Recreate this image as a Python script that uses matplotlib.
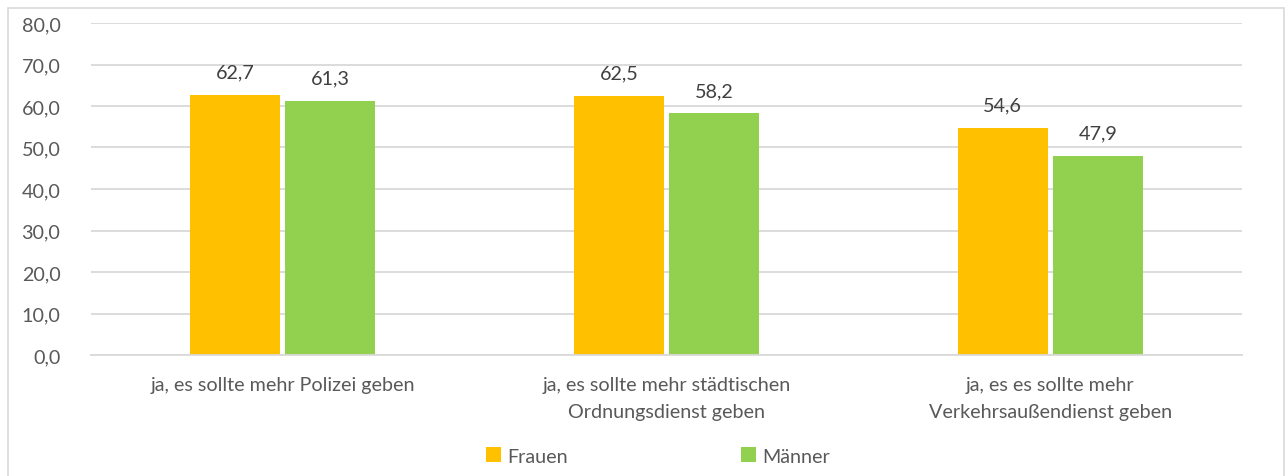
import matplotlib
matplotlib.use("Agg")
import matplotlib.pyplot as plt
import numpy as np
from matplotlib.patches import Rectangle

categories = ["ja, es sollte mehr Polizei geben",
              "ja, es sollte mehr städtischen\nOrdnungsdienst geben",
              "ja, es es sollte mehr\nVerkehrsaußendienst geben"]
series_names = ["Frauen", "Männer"]
frauen = [62.7, 62.5, 54.6]
maenner = [61.3, 58.2, 47.9]
yticks = [0, 10, 20, 30, 40, 50, 60, 70, 80]

colors = ["#FFC000", "#92D050"]
txt = "#595959"
plt.rcParams['font.family'] = ['Lato', 'DejaVu Sans']
FS = 14.2

W, H = 1285, 477
fig = plt.figure(figsize=(W/100, H/100), dpi=100)

def fx(px): return px / W
def fy(py): return 1 - py / H

# chart border
fig.patches.append(Rectangle((fx(8), fy(480)), fx(1284) - fx(8), fy(9) - fy(480),
                             transform=fig.transFigure, fill=False,
                             edgecolor="#D9D9D9", linewidth=1.2))

left, right, top, bottom = 91, 1242, 24, 356
ax = fig.add_axes([fx(left), fy(bottom), fx(right) - fx(left), fy(top) - fy(bottom)])

x = np.arange(len(categories))
bw = 0.235
gap = 0.013
b1 = ax.bar(x - (bw + gap) / 2, frauen, bw, color=colors[0], label=series_names[0], zorder=3)
b2 = ax.bar(x + (bw + gap) / 2, maenner, bw, color=colors[1], label=series_names[1], zorder=3)

for bars, vals in ((b1, frauen), (b2, maenner)):
    for r, v in zip(bars, vals):
        ax.annotate(f"{v:.1f}".replace(".", ","), (r.get_x() + r.get_width() / 2, v),
                    xytext=(0, 10.5), textcoords="offset points", ha="center", va="bottom",
                    fontsize=FS, color="#404040")

ax.set_xlim(-0.5, len(categories) - 0.5)
ax.set_ylim(0, 80)
ax.set_yticks(yticks)
ax.set_yticklabels([f"{t:.1f}".replace(".", ",") for t in yticks], fontsize=FS, color=txt)
ax.set_xticks(x)
ax.set_xticklabels(categories, fontsize=FS, color=txt, linespacing=1.75, va="top")
ax.tick_params(axis="both", length=0)
ax.tick_params(axis="y", pad=22)
ax.tick_params(axis="x", pad=15)
ax.grid(axis="y", color="#D9D9D9", linewidth=1.3, zorder=0)
ax.set_axisbelow(True)
for s in ("top", "right", "left"):
    ax.spines[s].set_visible(False)
ax.spines["bottom"].set_color("#D9D9D9")
ax.spines["bottom"].set_linewidth(1.3)
ax.spines["bottom"].set_zorder(4)

leg = fig.legend(handles=[b1, b2], labels=series_names, loc="center",
                 bbox_to_anchor=(fx(658), fy(457)), ncol=2, frameon=False,
                 fontsize=FS, handlelength=0.75, handleheight=0.75,
                 handletextpad=0.3, columnspacing=8.8)
for t in leg.get_texts():
    t.set_color(txt)

fig.savefig("out.png", dpi=100)
